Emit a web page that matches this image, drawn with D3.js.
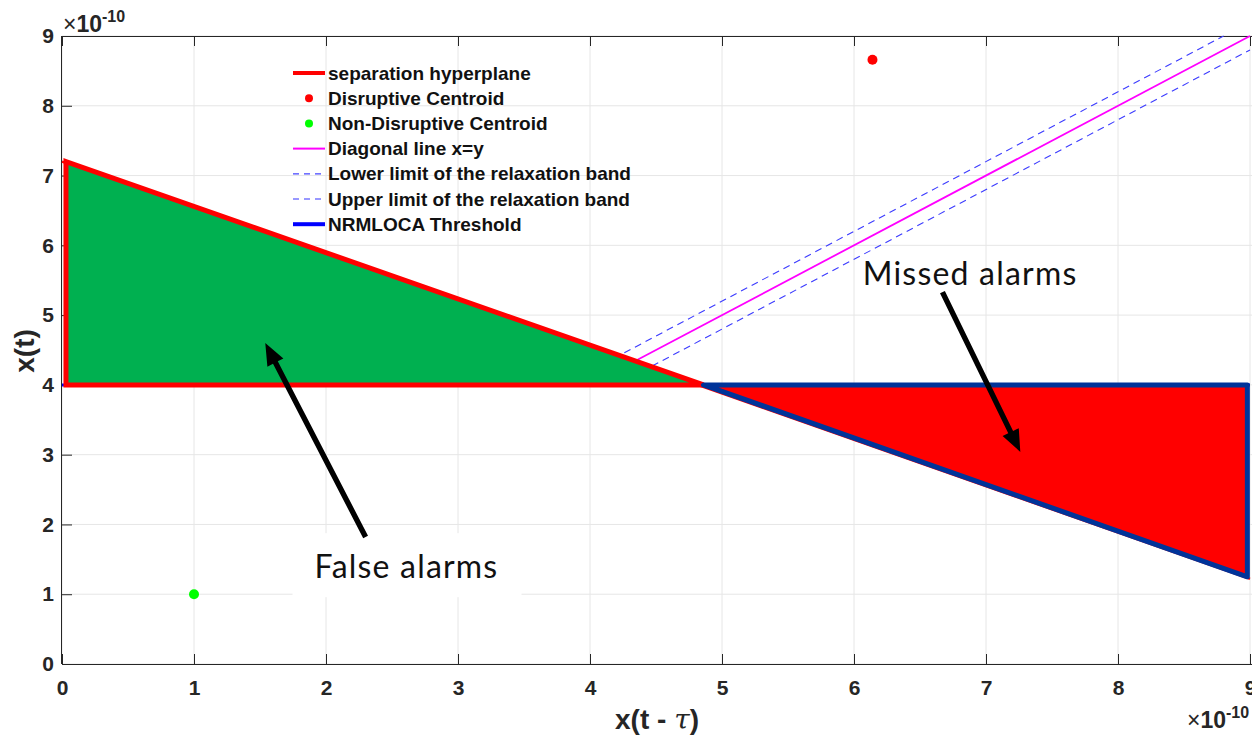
<!DOCTYPE html>
<html><head><meta charset="utf-8">
<script src="https://cdn.jsdelivr.net/npm/d3@7"></script>
<style>body{margin:0;background:#fff}svg{display:block}</style>
</head><body>
<svg id="c" width="1252" height="737"></svg>
<script>
// ---- data (units of 1e-10) ----
const xTicks = [0,1,2,3,4,5,6,7,8,9];
const yTicks = [0,1,2,3,4,5,6,7,8,9];
const hyperX = [0, 9];
const hyperY = [7.2, 1.22];
const thresholdX = [0, 9];
const thresholdY = [4, 4];
const falseAlarmX = [0.03, 4.86, 0.03];
const falseAlarmY = [7.2, 4, 4];
const missedAlarmX = [4.86, 8.98, 8.98];
const missedAlarmY = [4, 4, 1.25];
const diagX = [4.36, 9], diagY = [4.36, 9];
const upperX = [4.26, 8.8], upperY = [4.46, 9];
const lowerX = [4.47, 9], lowerY = [4.27, 8.8];
const disruptive = [6.14, 8.66];
const nonDisruptive = [1.0, 1.0];
const legendLabels = ["separation hyperplane","Disruptive Centroid","Non-Disruptive Centroid","Diagonal line x=y","Lower limit of the relaxation band","Upper limit of the relaxation band","NRMLOCA Threshold"];
const notes = [
  {text:"False alarms", tx:2.61, ty:1.23, from:[2.30,1.82], to:[1.54,4.60], box:true},
  {text:"Missed alarms", tx:6.88, ty:5.43, from:[6.67,5.33], to:[7.26,3.04], box:false}
];

const svg = d3.select("#c");
const x = d3.scaleLinear().domain([0,9]).range([62,1250]);
const y = d3.scaleLinear().domain([0,9]).range([664,36]);
const axisCol = "#262626";

// grid
const g = svg.append("g");
g.selectAll(".gx").data(xTicks).join("line")
  .attr("x1",d=>x(d)).attr("x2",d=>x(d)).attr("y1",y(0)).attr("y2",y(9))
  .attr("stroke","#e6e6e6").attr("stroke-width",1);
g.selectAll(".gy").data(yTicks).join("line")
  .attr("y1",d=>y(d)).attr("y2",d=>y(d)).attr("x1",x(0)).attr("x2",1252)
  .attr("stroke","#e6e6e6").attr("stroke-width",1);

// axes
const xAxis = d3.axisBottom(x).tickValues(xTicks).tickSize(-10).tickPadding(16).tickFormat(d3.format("d"));
const yAxis = d3.axisLeft(y).tickValues(yTicks).tickSize(-10).tickPadding(8).tickFormat(d3.format("d"));
const xTop = d3.axisTop(x).tickValues(xTicks).tickSize(-10).tickFormat("");
function styleAxis(sel){
  sel.select(".domain").remove();
  sel.selectAll("line").attr("stroke",axisCol).attr("stroke-width",1);
  sel.selectAll("text").attr("fill",axisCol).attr("font-family","'Liberation Sans',Arial,sans-serif")
    .attr("font-size",21).attr("font-weight","bold");
}
svg.append("g").attr("transform",`translate(0,${y(0)})`).call(xAxis).call(styleAxis);
svg.append("g").attr("transform",`translate(${x(0)},0)`).call(yAxis).call(styleAxis);
svg.append("g").attr("transform",`translate(0,${y(9)})`).call(xTop).call(styleAxis);
svg.append("line").attr("x1",x(0)).attr("x2",1252).attr("y1",y(0)+0.5).attr("y2",y(0)+0.5).attr("stroke",axisCol);
svg.append("line").attr("x1",x(0)).attr("x2",1252).attr("y1",y(9)+0.5).attr("y2",y(9)+0.5).attr("stroke",axisCol);
svg.append("line").attr("x1",x(0)-0.5).attr("x2",x(0)-0.5).attr("y1",y(0)).attr("y2",y(9)).attr("stroke",axisCol);

const line = d3.line().x(d=>x(d[0])).y(d=>y(d[1]));
const zip = (a,b)=>a.map((v,i)=>[v,b[i]]);

// threshold
svg.append("path").attr("d",line(zip(thresholdX,thresholdY))).attr("stroke","#0000ff").attr("stroke-width",3).attr("fill","none");
// hyperplane
svg.append("path").attr("d",line(zip(hyperX,hyperY))).attr("stroke","#ff0000").attr("stroke-width",2.5).attr("fill","none");
// diagonal and band
svg.append("path").attr("d",line(zip(diagX,diagY))).attr("stroke","#ff00ff").attr("stroke-width",1.8).attr("fill","none");
svg.append("path").attr("d",line(zip(upperX,upperY))).attr("stroke","#3b3bff").attr("stroke-width",1.1).attr("stroke-dasharray","7,5").attr("fill","none");
svg.append("path").attr("d",line(zip(lowerX,lowerY))).attr("stroke","#3b3bff").attr("stroke-width",1.1).attr("stroke-dasharray","7,5").attr("fill","none");
// polygons
svg.append("path").attr("d",line(zip(falseAlarmX,falseAlarmY))+"Z").attr("fill","#00b050")
  .attr("stroke","#ff0000").attr("stroke-width",5).attr("stroke-linejoin","miter");
svg.append("path").attr("d",line(zip(missedAlarmX,missedAlarmY))+"Z").attr("fill","#ff0000")
  .attr("stroke","#003399").attr("stroke-width",5).attr("stroke-linejoin","round");

// centroids
svg.append("circle").attr("cx",x(disruptive[0])).attr("cy",y(disruptive[1])).attr("r",5).attr("fill","#ff0000");
svg.append("circle").attr("cx",x(nonDisruptive[0])).attr("cy",y(nonDisruptive[1])).attr("r",5).attr("fill","#00ff00");

// legend
const lg = svg.append("g");
const ly0 = 73, ldy = 25.2, lx0 = 293, lx1 = 325;
legendLabels.forEach((t,i)=>{
  const yy = ly0 + i*ldy;
  if(i===0) lg.append("line").attr("x1",lx0).attr("x2",lx1).attr("y1",yy).attr("y2",yy).attr("stroke","#ff0000").attr("stroke-width",4);
  if(i===1) lg.append("circle").attr("cx",309).attr("cy",yy).attr("r",4).attr("fill","#ff0000");
  if(i===2) lg.append("circle").attr("cx",309).attr("cy",yy).attr("r",4).attr("fill","#00ff00");
  if(i===3) lg.append("line").attr("x1",lx0).attr("x2",lx1).attr("y1",yy).attr("y2",yy).attr("stroke","#ff00ff").attr("stroke-width",2);
  if(i===4) lg.append("line").attr("x1",lx0).attr("x2",lx1).attr("y1",yy).attr("y2",yy).attr("stroke","#4444ff").attr("stroke-width",1.3).attr("stroke-dasharray","6,5");
  if(i===5) lg.append("line").attr("x1",lx0).attr("x2",lx1).attr("y1",yy).attr("y2",yy).attr("stroke","#7777ff").attr("stroke-width",1.3).attr("stroke-dasharray","6,5");
  if(i===6) lg.append("line").attr("x1",lx0).attr("x2",lx1).attr("y1",yy).attr("y2",yy).attr("stroke","#0000ff").attr("stroke-width",4);
  lg.append("text").attr("x",328).attr("y",yy).attr("dy","0.35em").text(t)
    .attr("font-family","'Liberation Sans',Arial,sans-serif").attr("font-weight","bold").attr("font-size",19).attr("fill","#111");
});

// axis labels
svg.append("text").attr("transform","translate(34,351) rotate(-90)").attr("text-anchor","middle")
  .attr("font-family","'Liberation Sans',Arial,sans-serif").attr("font-weight","bold").attr("font-size",28).attr("fill",axisCol).text("x(t)");
const xl = svg.append("text").attr("x",657).attr("y",729).attr("text-anchor","middle")
  .attr("font-family","'Liberation Sans',Arial,sans-serif").attr("font-weight","bold").attr("font-size",28).attr("fill",axisCol);
xl.append("tspan").text("x(t - ");
xl.append("tspan").attr("font-style","italic").attr("font-weight","normal").attr("font-family","'DejaVu Serif',serif").text("τ");
xl.append("tspan").text(")");

// exponents
function expo(xx,yy){
  const t = svg.append("text").attr("x",xx).attr("y",yy).attr("font-family","'Liberation Sans',Arial,sans-serif").attr("fill",axisCol);
  t.append("tspan").attr("font-size",23).text("×");
  t.append("tspan").attr("font-size",23).attr("font-weight","bold").text("10");
  t.append("tspan").attr("font-size",16).attr("font-weight","bold").attr("dy",-10).text("-10");
}
expo(63,32);
expo(1187,728);

// annotations
notes.forEach(n=>{
  const cx = x(n.tx), by = y(n.ty);
  if(n.box) svg.append("rect").attr("x",cx-114).attr("y",by-45).attr("width",229).attr("height",64).attr("fill","#fff");
  const x0=x(n.from[0]), y0=y(n.from[1]), x1=x(n.to[0]), y1=y(n.to[1]);
  const dx=x1-x0, dy=y1-y0, L=Math.hypot(dx,dy), ux=dx/L, uy=dy/L, px=-uy, py=ux;
  const hl=22, hw=9, sw=2.7;
  const bx=x1-ux*hl, byy=y1-uy*hl;
  const pts=[[x0+px*sw,y0+py*sw],[bx+px*sw,byy+py*sw],[bx+px*hw,byy+py*hw],[x1,y1],[bx-px*hw,byy-py*hw],[bx-px*sw,byy-py*sw],[x0-px*sw,y0-py*sw]];
  svg.append("polygon").attr("points",pts.map(p=>p.join(",")).join(" ")).attr("fill","#000");
  svg.append("text").attr("x",cx).attr("y",by).attr("text-anchor","middle")
    .attr("font-family","Lato,'Open Sans',sans-serif").attr("font-size",32).attr("letter-spacing",1.2).attr("fill","#111").text(n.text);
});
</script>
</body></html>
